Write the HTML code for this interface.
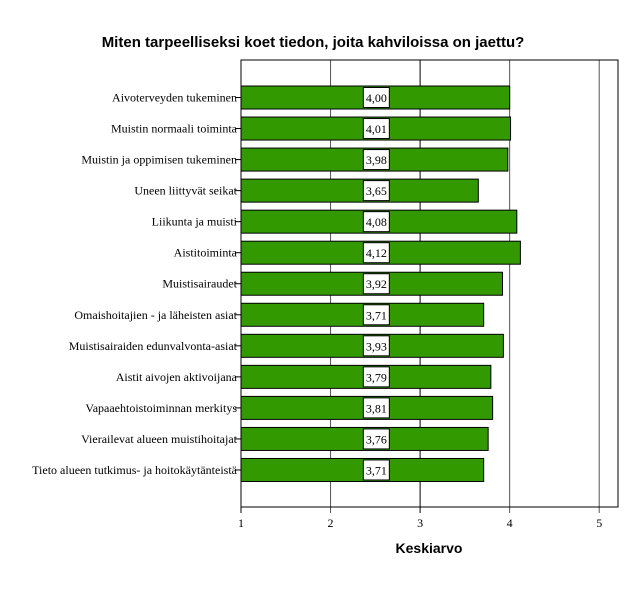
<!DOCTYPE html>
<html><head><meta charset="utf-8"><style>
body{margin:0;background:#fff;}
svg{display:block;font-family:"Liberation Sans",sans-serif;}
</style></head><body>
<svg id="c" width="626" height="601" xmlns="http://www.w3.org/2000/svg">
<rect width="626" height="601" fill="#fff"/>
<text x="313" y="47" text-anchor="middle" font-size="15" font-weight="bold">Miten tarpeelliseksi koet tiedon, joita kahviloissa on jaettu?</text>
<text x="429" y="553" text-anchor="middle" font-size="14" font-weight="bold">Keskiarvo</text>
<g id="g"></g>
</svg>
<script>
const categories=["Aivoterveyden tukeminen","Muistin normaali toiminta","Muistin ja oppimisen tukeminen","Uneen liittyvät seikat","Liikunta ja muisti","Aistitoiminta","Muistisairaudet","Omaishoitajien - ja läheisten asiat","Muistisairaiden edunvalvonta-asiat","Aistit aivojen aktivoijana","Vapaaehtoistoiminnan merkitys","Vierailevat alueen muistihoitajat","Tieto alueen tutkimus- ja hoitokäytänteistä"];
const values=[4.00,4.01,3.98,3.65,4.08,4.12,3.92,3.71,3.93,3.79,3.81,3.76,3.71];
const tickLabels=["1","2","3","4","5"];
const ticks=[1,2,3,4,5];
const X0=241,X1=618,Y0=60,Y1=507,vmin=1,vmax=5.21;
const x=v=>X0+(v-vmin)/(vmax-vmin)*(X1-X0);
const y=i=>97.5+i*31.04;
const NS="http://www.w3.org/2000/svg",g=document.getElementById('g');
function mk(t,a,p){const e=document.createElementNS(NS,t);for(const k in a)e.setAttribute(k,a[k]);(p||g).appendChild(e);return e;}
ticks.forEach((t,i)=>{
 const gl=mk('line',{x1:x(t),x2:x(t),y1:Y0,y2:Y1+6,stroke:t===3?'#000':(t===1?'#000':'#555'),'stroke-width':1});
 
 
 const tl=mk('text',{x:x(t),y:Y1+20,'text-anchor':'middle','font-size':12,'font-family':'Liberation Serif,serif'});
 tl.textContent=tickLabels[i];
 
 
});
const fr=mk('rect',{x:X0,y:Y0,width:X1-X0,height:Y1-Y0,fill:'none',stroke:'#000'});


categories.forEach((c,i)=>{
 const cy=y(i);
 const b=mk('rect',{x:X0,y:cy-11.5,width:x(values[i])-X0,height:23,fill:'#339900',stroke:'#000','stroke-width':1});
 
 
 mk('line',{x1:X0-6,x2:X0,y1:cy,y2:cy,stroke:'#000'});
 const l=mk('text',{x:X0-4,y:cy+4,'text-anchor':'end','font-size':12,'font-family':'Liberation Serif,serif'});
 l.textContent=c;
 
 
 const cx=x(2.5)+1;
 const bx=mk('rect',{x:cx-13,y:cy-10,width:26,height:20,fill:'#fff',stroke:'#000'});
 
 
 const vt=mk('text',{x:cx,y:cy+4.5,'text-anchor':'middle','font-size':12,'font-family':'Liberation Serif,serif'});
 vt.textContent=values[i].toFixed(2).replace('.',',');
 
 
});
</script>
</body></html>
